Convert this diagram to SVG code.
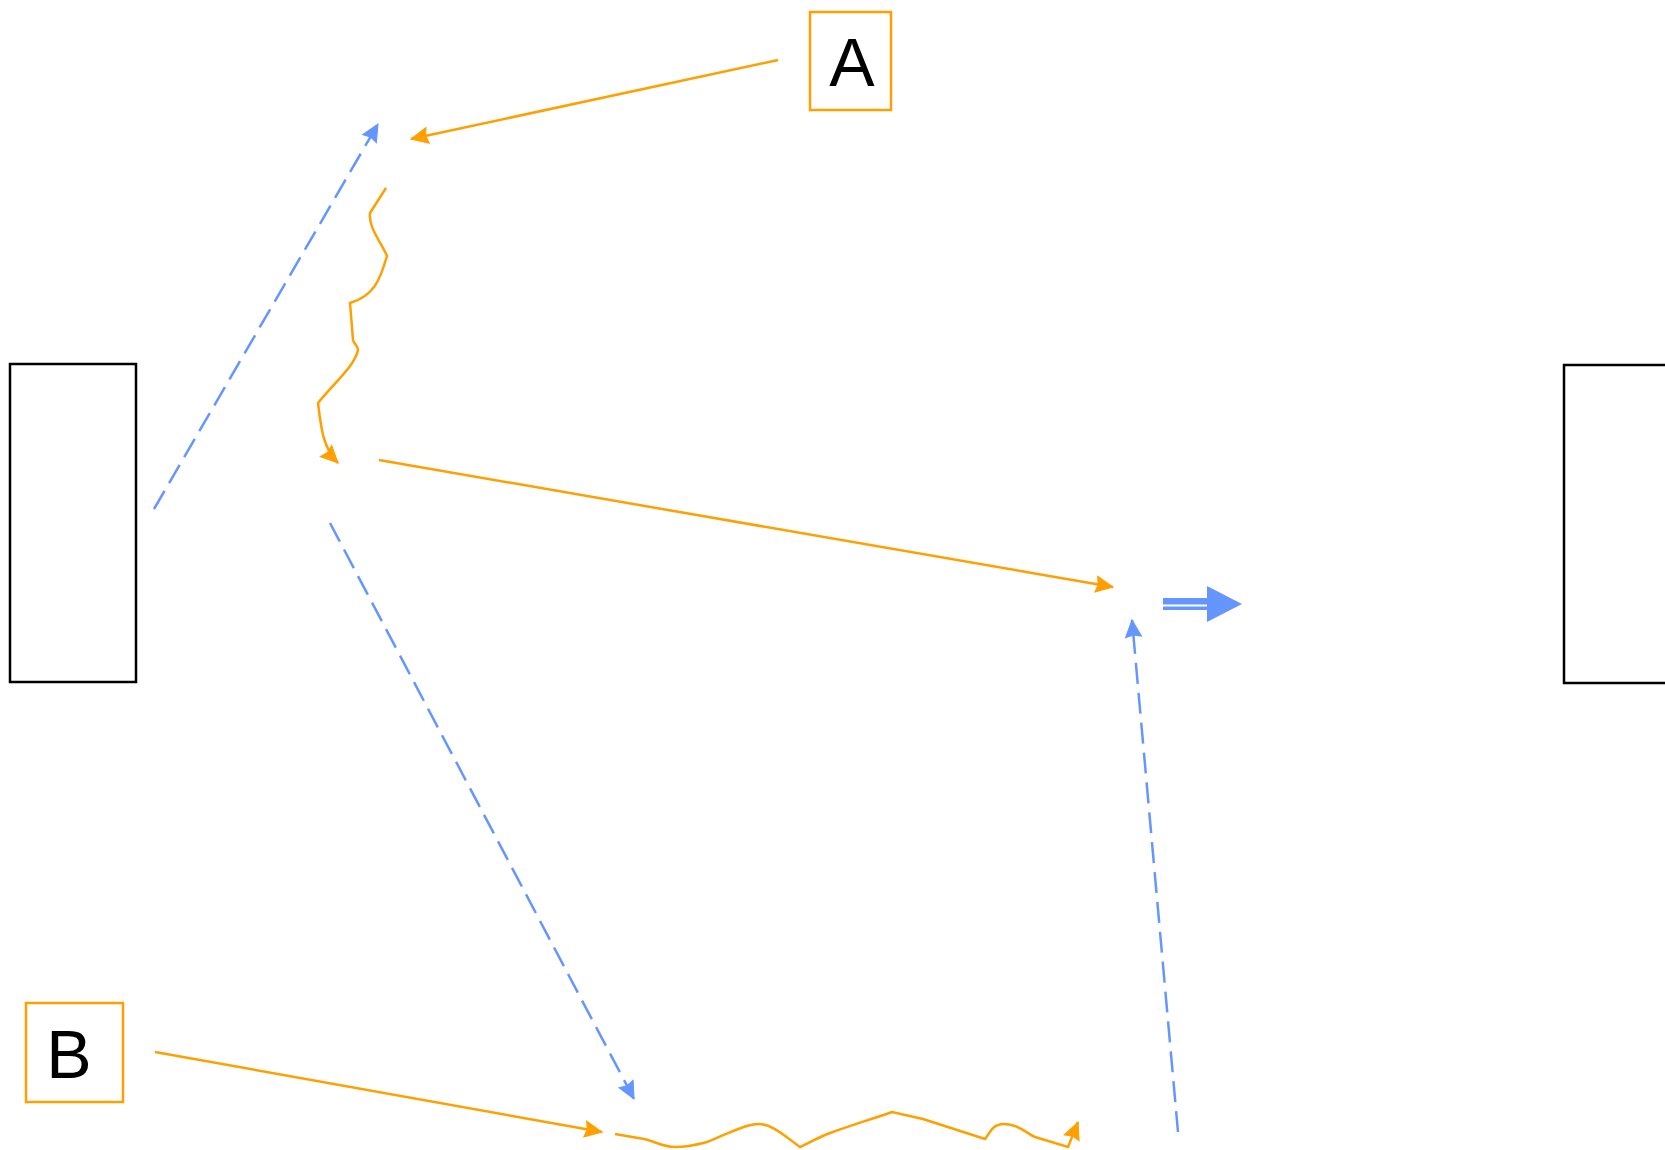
<svg xmlns="http://www.w3.org/2000/svg" width="1665" height="1150" viewBox="0 0 1665 1150">
<style>
.box{fill:#fff;stroke:#000;stroke-width:2.5}
.obox{fill:#fff;stroke:#ff9f00;stroke-width:2.5}
.lbl{font-family:"Liberation Sans",Arial,sans-serif;font-size:68px;fill:#000;text-anchor:middle}
.o{fill:none;stroke:#ff9f00;stroke-width:2.5;marker-end:url(#ao)}
.b{fill:none;stroke:#6596ff;stroke-width:2.5;stroke-dasharray:21 9;marker-end:url(#ab)}
.ho{fill:#ff9f00;stroke:#ff9f00;stroke-width:1}
.hb{fill:#6596ff;stroke:#6596ff;stroke-width:1}
</style>
<defs>
<marker id="ao" markerUnits="userSpaceOnUse" markerWidth="22" markerHeight="22" refX="18" refY="11" orient="auto">
<path class="ho" d="M1,3 L18,11 L1,19 L3,11 z"/>
</marker>
<marker id="ab" markerUnits="userSpaceOnUse" markerWidth="22" markerHeight="22" refX="18" refY="11" orient="auto">
<path class="hb" d="M1,3 L18,11 L1,19 L3,11 z"/>
</marker>
</defs>
<g id="nodes">
<g id="left"><rect class="box" x="10" y="364" width="126" height="318"/></g>
<g id="right"><rect class="box" x="1564" y="365" width="126" height="318"/></g>
<g id="A"><rect class="obox" x="810" y="12" width="81" height="98"/><text class="lbl" x="852" y="86">A</text></g>
<g id="B"><rect class="obox" x="26" y="1003" width="97" height="99"/><text class="lbl" x="69" y="1078">B</text></g>
</g>
<g id="connectors">
<path class="b" d="M154,509 L378,124"/>
<path class="o" d="M778,60 L411,139"/>
<path class="o" d="M386,188 L370,213 C368,228 383,245 387,256 C380,280 374,296 350,303 L353,340 C354,344 358,346 358,350 C355,366 332,385 318,403 C321,428 323,448 338,463"/>
<path class="o" d="M379,460 L1113,587"/>
<path class="b" d="M330,523 L634,1099"/>
<path class="b" d="M1178,1132 L1132,620"/>
<path class="o" d="M155,1052 L602,1132"/>
<path class="o" d="M615,1134 L644,1139 C654,1141 663,1147 675,1147 C689,1147 699,1144 707,1142 C725,1135 745,1124 758,1124 C771,1123 786,1137 800,1147 C809,1143 819,1137 830,1133 C852,1125 872,1119 892,1112 L923,1119 L985,1139 C990,1133 992,1124 1004,1124 C1018,1124 1026,1133 1035,1137 L1068,1147 L1078,1122"/>
<g id="bigarrow">
<rect x="1163" y="598" width="46" height="12" fill="#6596ff"/>
<line x1="1163" y1="605.5" x2="1209" y2="605.5" stroke="#fff" stroke-width="1.8"/>
<path d="M1207,586 L1242,604 L1207,622 z" fill="#6596ff"/>
</g>
</g>
</svg>
